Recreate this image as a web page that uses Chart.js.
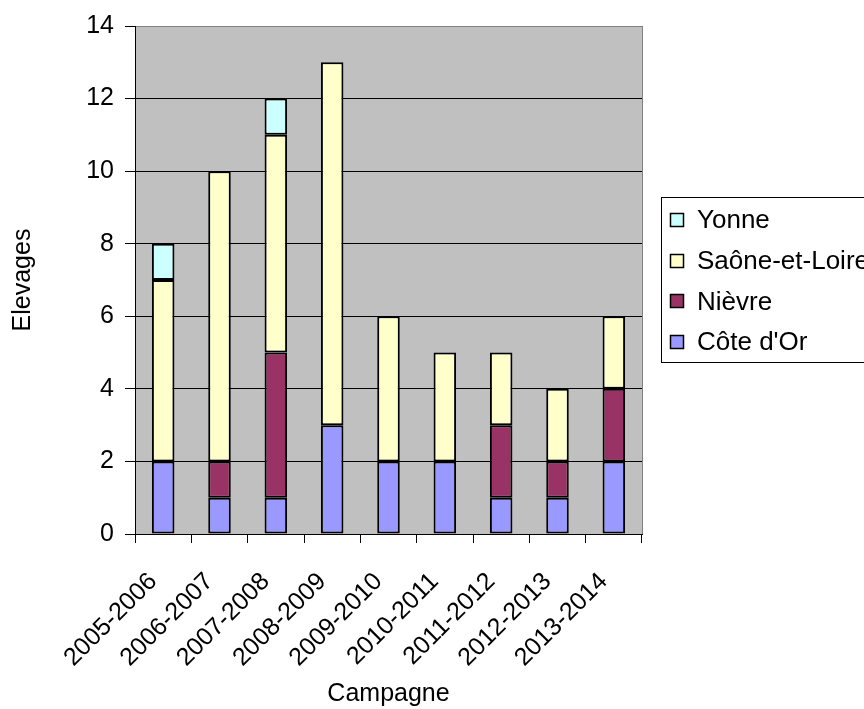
<!DOCTYPE html>
<html>
<head>
<meta charset="utf-8">
<script src="https://cdn.jsdelivr.net/npm/chart.js@4/dist/chart.umd.min.js"></script>
<style>
  html, body { margin: 0; padding: 0; background: #fff; }
  #grafico { display: block; }
</style>
</head>
<body>
<canvas id="grafico" width="864" height="709"></canvas>
<script>
// Données (nombre d'élevages par campagne)
var campagnes = ['2005-2006', '2006-2007', '2007-2008', '2008-2009', '2009-2010',
                 '2010-2011', '2011-2012', '2012-2013', '2013-2014'];
var coteDOr     = [2, 1, 1, 3, 2, 2, 1, 1, 2];
var nievre      = [0, 1, 4, 0, 0, 0, 2, 1, 2];
var saoneLoire  = [5, 8, 6, 10, 4, 3, 2, 2, 2];
var yonne       = [1, 0, 1, 0, 0, 0, 0, 0, 0];
var ticksY = [0, 2, 4, 6, 8, 10, 12, 14];

var fonte = { family: "'Liberation Sans', Arial, sans-serif", size: 25 };

function serie(nom, valeurs, couleur) {
    return {
        label: nom,
        data: valeurs,
        backgroundColor: couleur,
        borderColor: '#000',
        borderWidth: 2,
        borderSkipped: false,
        barPercentage: 0.4,
        categoryPercentage: 1
    };
}

// fond gris de la zone de tracé + bordure droite
var fondGris = {
    id: 'fondGris',
    beforeDraw(chart) {
        var a = chart.chartArea;
        var ctx = chart.ctx;
        ctx.save();
        ctx.fillStyle = '#C0C0C0';
        ctx.fillRect(a.left, a.top, a.right - a.left, a.bottom - a.top);
        ctx.restore();
    },
    beforeDatasetsDraw(chart) {
        var a = chart.chartArea;
        var ctx = chart.ctx;
        ctx.save();
        ctx.strokeStyle = '#808080';
        ctx.lineWidth = 1;
        ctx.beginPath();
        ctx.moveTo(Math.round(a.right) + 0.5, a.top);
        ctx.lineTo(Math.round(a.right) + 0.5, a.bottom);
        ctx.stroke();
        ctx.restore();
    }
};

// légende encadrée à droite, ordre inversé comme dans Excel
var legendeExcel = {
    id: 'legendeExcel',
    afterDraw(chart) {
        var ctx = chart.ctx;
        var sets = chart.data.datasets.slice().reverse();
        ctx.save();
        ctx.fillStyle = '#fff';
        ctx.strokeStyle = '#000';
        ctx.lineWidth = 1;
        ctx.fillRect(661.5, 197.5, 220, 165);
        ctx.strokeRect(661.5, 197.5, 220, 165);
        ctx.font = '26px ' + fonte.family;
        ctx.textBaseline = 'middle';
        sets.forEach((ds, i) => {
            var y = 220 + i * 40.7;
            ctx.fillStyle = ds.backgroundColor;
            ctx.fillRect(670.5, Math.round(y - 7) + 0.5, 13, 13);
            ctx.strokeStyle = '#000';
            ctx.lineWidth = 1.5;
            ctx.strokeRect(670.5, Math.round(y - 7) + 0.5, 13, 13);
            ctx.fillStyle = '#000';
            ctx.fillText(ds.label, 697, y + 1);
        });
        ctx.restore();
    }
};

var config = {
    type: 'bar',
    data: {
        labels: campagnes,
        datasets: [
            serie("Côte d'Or", coteDOr, '#9999FF'),
            serie('Nièvre', nievre, '#993366'),
            serie('Saône-et-Loire', saoneLoire, '#FFFFCC'),
            serie('Yonne', yonne, '#CCFFFF')
        ]
    },
    options: {
        responsive: false,
        animation: false,
        devicePixelRatio: 1,
        layout: { padding: { left: 0, top: 26, right: 222, bottom: 0 } },
        plugins: {
            legend: { display: false },
            tooltip: { enabled: false }
        },
        scales: {
            x: {
                stacked: true,
                border: { color: '#000', width: 1 },
                grid: {
                    offset: true,
                    drawOnChartArea: false,
                    drawTicks: true,
                    tickLength: 9,
                    tickColor: '#000'
                },
                ticks: {
                    color: '#000',
                    font: fonte,
                    minRotation: 45,
                    maxRotation: 45,
                    padding: 24,
                    labelOffset: -10,
                    autoSkip: false
                },
                title: {
                    display: true,
                    text: 'Campagne',
                    color: '#000',
                    font: fonte,
                    padding: { top: 0, bottom: 0 }
                },
                afterFit(scale) { scale.height = 175; }
            },
            y: {
                stacked: true,
                min: 0,
                max: 14,
                border: { color: '#000', width: 1 },
                grid: {
                    color: (c) => (c.tick && c.tick.value === ticksY[ticksY.length - 1]) ? '#808080' : '#000',
                    tickColor: '#000',
                    tickLength: 10,
                    lineWidth: 1
                },
                afterBuildTicks(scale) {
                    scale.ticks = ticksY.map((v) => ({ value: v }));
                },
                ticks: {
                    color: '#000',
                    font: fonte,
                    padding: 11
                },
                title: {
                    display: true,
                    text: 'Elevages',
                    color: '#000',
                    font: fonte,
                    padding: { top: 8, bottom: 0 }
                },
                afterFit(scale) { scale.width = 135; }
            }
        }
    },
    plugins: [fondGris, legendeExcel]
};

var monGraphique = new Chart(document.getElementById('grafico'), config);
</script>
</body>
</html>
